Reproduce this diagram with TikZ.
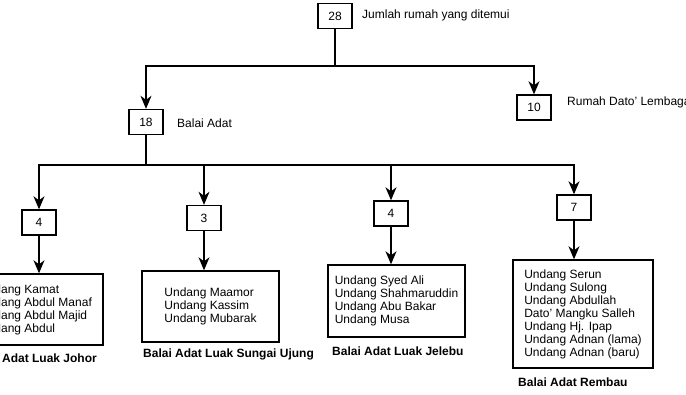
\documentclass[tikz,border=0pt]{standalone}
\usepackage{fontspec}
\setmainfont{Liberation Sans}
\usetikzlibrary{arrows.meta}

\begin{document}
\begin{tikzpicture}[x=1pt, y=-1pt]
\tikzstyle{numbox} = [rectangle, draw = black, line width = 1.4pt, minimum width = 34pt, minimum height = 25pt, inner sep = 0pt, font = \fontsize{12}{13}\selectfont]
\tikzstyle{listbox} = [rectangle, draw = black, line width = 1.4pt, inner sep = 0pt, align = left, font = \fontsize{12}{13}\selectfont]
\tikzstyle{note} = [inner sep = 0pt, font = \fontsize{12}{13}\selectfont]
\tikzstyle{caption} = [inner sep = 0pt, font = \fontsize{12}{13}\selectfont\bfseries]
\tikzstyle{edge} = [-{Stealth[length = 13pt, width = 11pt, inset = 4pt]}, line width = 1.4pt]
\useasboundingbox (0, 0) rectangle (686, 394);
\clip (0, 0) rectangle (686, 394);
\node[numbox] (n28) at (335, 16) {28};
\node[note, anchor = west] (t28) at (362, 15) {Jumlah rumah yang ditemui};
\node[numbox] (n18) at (146, 122) {18};
\node[note, anchor = west] (t18) at (177, 123) {Balai Adat};
\node[numbox] (n10) at (534, 107.5) {10};
\node[note, anchor = west] (t10) at (567, 102) {Rumah Dato' Lembaga};
\node[numbox] (sj) at (39, 222.5) {4};
\node[numbox] (ss) at (204, 218) {3};
\node[numbox] (sl) at (391, 213.5) {4};
\node[numbox] (sr) at (574, 207.5) {7};
\node[listbox, minimum width = 135pt, minimum height = 71pt] (bj) at (35.5, 309.5) {Undang Kamat\\Undang Abdul Manaf\\Undang Abdul Majid\\Undang Abdul};
\node[listbox, minimum width = 137pt, minimum height = 71pt] (bs) at (210.5, 306.5) {Undang Maamor\\Undang Kassim\\Undang Mubarak};
\node[listbox, minimum width = 137pt, minimum height = 72pt] (bl) at (396.5, 301) {Undang Syed Ali\\Undang Shahmaruddin\\Undang Abu Bakar\\Undang Musa};
\node[listbox, minimum width = 140pt, minimum height = 108pt] (br) at (583, 314) {Undang Serun\\Undang Sulong\\Undang Abdullah\\Dato' Mangku Salleh\\Undang Hj. Ipap\\Undang Adnan (lama)\\Undang Adnan (baru)};
\node[caption, anchor = east] (cj) at (97, 358) {Balai Adat Luak Johor};
\node[caption, anchor = west] (cs) at (143, 354) {Balai Adat Luak Sungai Ujung};
\node[caption, anchor = west] (cl) at (332, 351) {Balai Adat Luak Jelebu};
\node[caption, anchor = west] (cr) at (518, 382) {Balai Adat Rembau};
\coordinate (j1) at (335, 66);
\coordinate (j2) at (146, 165);
\draw[line width = 1.4pt] (n28)--(j1);
\draw[edge] (j1) -| (n18);
\draw[edge] (j1) -| (n10);
\draw[line width = 1.4pt] (n18)--(j2);
\draw[edge] (j2) -| (sj);
\draw[edge] (j2) -| (ss);
\draw[edge] (j2) -| (sl);
\draw[edge] (j2) -| (sr);
\draw[edge] (sj)--(sj |- bj.north);
\draw[edge] (ss)--(ss |- bs.north);
\draw[edge] (sl)--(sl |- bl.north);
\draw[edge] (sr)--(sr |- br.north);
\end{tikzpicture}
\end{document}
